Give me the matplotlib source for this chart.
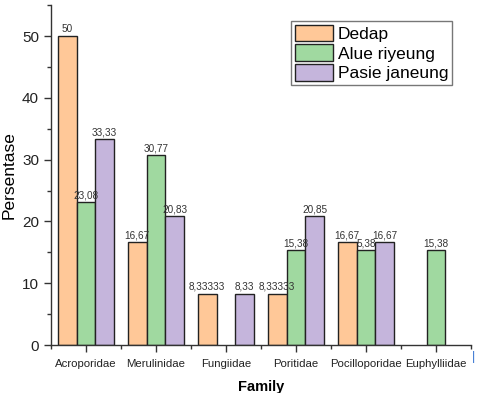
import matplotlib
matplotlib.use("Agg")
import matplotlib.pyplot as plt
import numpy as np
from matplotlib.ticker import MultipleLocator, FixedLocator

plt.rcParams['font.family'] = ['Liberation Sans', 'DejaVu Sans']

families = ["Acroporidae", "Merulinidae", "Fungiidae", "Poritidae", "Pocilloporidae", "Euphylliidae"]
series = ["Dedap", "Alue riyeung", "Pasie janeung"]
dedap = [50, 16.67, 8.33333, 8.33333, 16.67, np.nan]
alue = [23.08, 30.77, np.nan, 15.38, 15.38, 15.38]
pasie = [33.33, 20.83, 8.33, 20.85, 16.67, np.nan]
dedap_lbl = ["50", "16,67", "8,33333", "8,33333", "16,67", ""]
alue_lbl = ["23,08", "30,77", "", "15,38", "5,38", "15,38"]
pasie_lbl = ["33,33", "20,83", "8,33", "20,85", "16,67", ""]

colors = ["#FFC898", "#A0D9A0", "#C5B5DC"]

fig = plt.figure(figsize=(4.8, 3.93), dpi=100)
ax = fig.add_axes([0.106, 0.122, 0.875, 0.865])

x = np.arange(len(families))
w = 0.8 / 3
data = [dedap, alue, pasie]
labels = [dedap_lbl, alue_lbl, pasie_lbl]
for i, (vals, lbls, c, name) in enumerate(zip(data, labels, colors, series)):
    pos = x + (i - 1) * w
    v = np.array(vals, dtype=float)
    m = ~np.isnan(v)
    ax.bar(pos[m], v[m], width=w, color=c, edgecolor="#222222", linewidth=1.0,
           label=name)
    for p, val, t in zip(pos, v, lbls):
        if t and not np.isnan(val):
            ax.text(p, val + 0.3, t, ha="center", va="bottom", fontsize=7.2, color="#333333")

ax.set_xlim(-0.5, len(families) - 0.5)
ax.set_ylim(0, 55)
ax.set_xticks(x)
ax.set_xticklabels(families, fontsize=8.2)
ax.xaxis.set_minor_locator(FixedLocator(np.arange(-0.5, len(families), 1.0)))
ax.yaxis.set_major_locator(MultipleLocator(10))
ax.yaxis.set_minor_locator(MultipleLocator(5))
ax.tick_params(axis="y", which="major", labelsize=11, length=5, width=1, direction="out", colors="#333333", labelcolor="#222222")
ax.tick_params(axis="y", which="minor", length=3, width=1, direction="out", colors="#333333")
ax.tick_params(axis="x", which="major", length=5, width=1, direction="out", colors="#333333", labelcolor="#222222", pad=5)
ax.tick_params(axis="x", which="minor", length=3, width=1, direction="out", colors="#333333")
for s in ["top", "right"]:
    ax.spines[s].set_visible(False)
for s in ["left", "bottom"]:
    ax.spines[s].set_color("#333333")
    ax.spines[s].set_linewidth(1.0)

ax.set_ylabel("Persentase", fontsize=12.5, labelpad=4)
ax.set_xlabel("Family", fontsize=10.5, fontweight="bold", labelpad=8)

leg = ax.legend(loc="upper right", bbox_to_anchor=(0.955, 0.953), fontsize=12.5, frameon=True,
                fancybox=False, edgecolor="#555555", handlelength=2.2, handleheight=1.1,
                handletextpad=0.3, borderpad=0.2, labelspacing=0.15, borderaxespad=0)
leg.get_frame().set_linewidth(1.0)

fig.text(0.987, 0.092, "|", color="#3070D0", fontsize=9, ha="center", va="center")

fig.savefig("out.png", dpi=100)
